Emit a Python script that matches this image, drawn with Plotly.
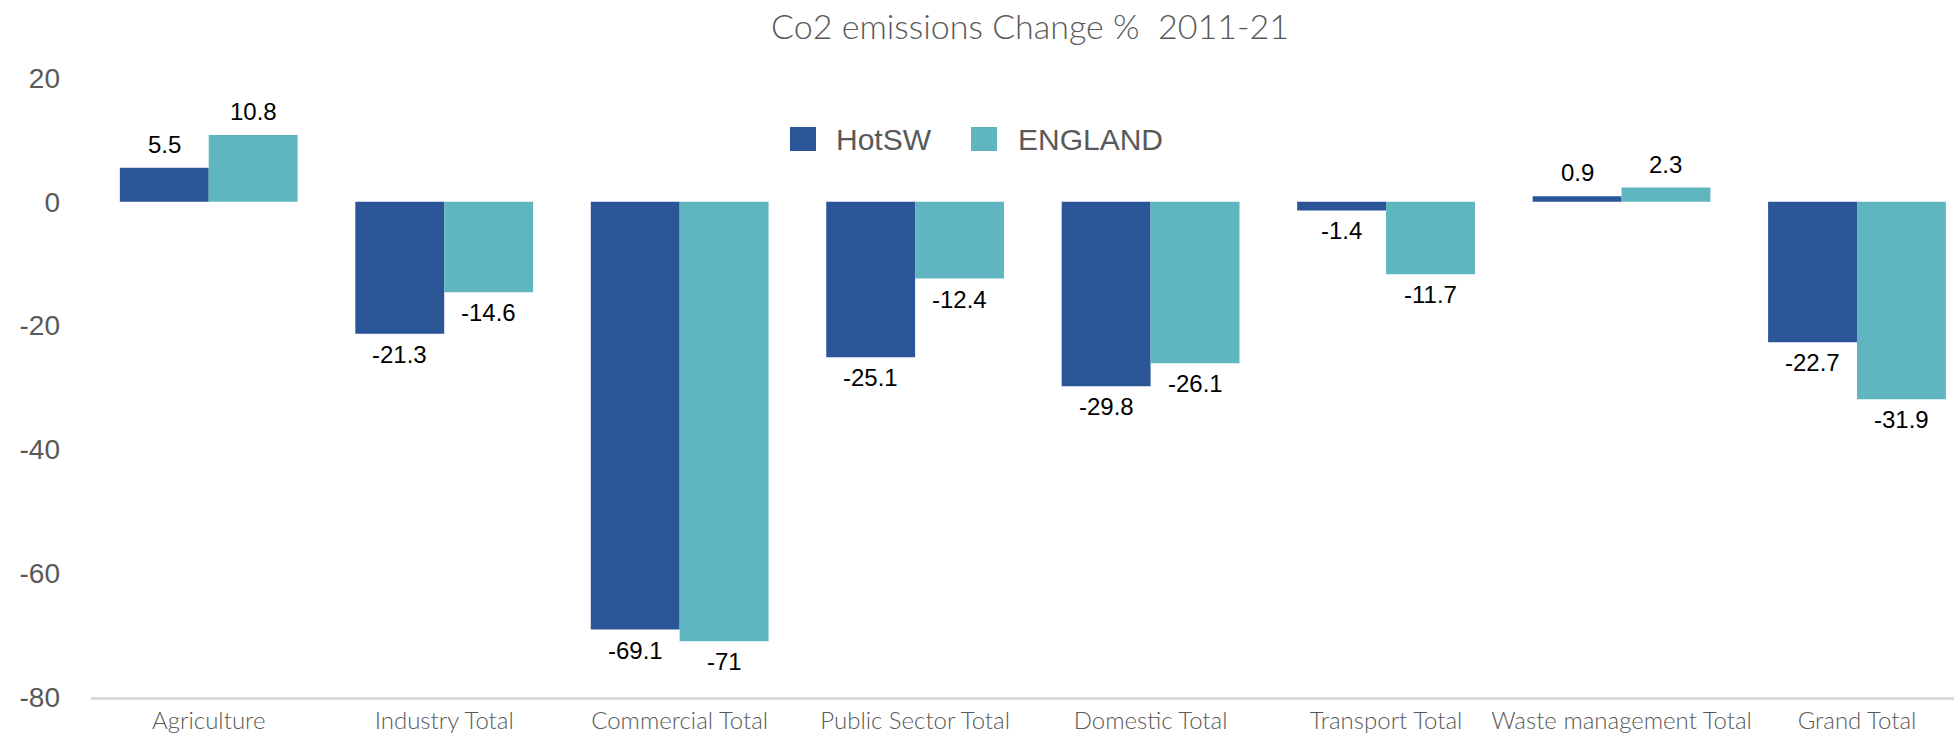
import plotly.graph_objects as go

# Sector categories and percentage change in CO2 emissions, 2011-21
categories = [
    "Agriculture", "Industry Total", "Commercial Total", "Public Sector Total",
    "Domestic Total", "Transport Total", "Waste management Total", "Grand Total",
]
hotsw = [5.5, -21.3, -69.1, -25.1, -29.8, -1.4, 0.9, -22.7]
england = [10.8, -14.6, -71, -12.4, -26.1, -11.7, 2.3, -31.9]
y_ticks = [-80, -60, -40, -20, 0, 20]
y_tick_text = ["-80", "-60", "-40", "-20", "0", "20"]

series_names = ["HotSW", "ENGLAND"]
series_colors = ["#2a5597", "#5fb6c1"]

W, H = 1954, 739
M_L, M_R, M_T, M_B = 91, 0, 78, 42
X_RANGE = [-0.5, 7.412]
BARGAP = 0.245

fig = go.Figure()
for name, vals, col in zip(series_names, [hotsw, england], series_colors):
    fig.add_trace(go.Bar(
        x=categories, y=vals, name=name,
        marker=dict(color=col, line=dict(width=0)),
        showlegend=False,
    ))

# Value labels just beyond the end of each bar
plot_w = W - M_L - M_R
px_per_cat = plot_w / (X_RANGE[1] - X_RANGE[0])
bar_px = px_per_cat * (1 - BARGAP) / 2
annotations = []
for i, vals in enumerate([hotsw, england]):
    offset = (i - 0.5) * bar_px
    for cat, v in zip(categories, vals):
        annotations.append(dict(
            x=cat, y=v, xref="x", yref="y", text=f"{v:g}",
            xshift=offset, yshift=8 if v >= 0 else -5,
            yanchor="bottom" if v >= 0 else "top", xanchor="center",
            showarrow=False,
            font=dict(family="Liberation Sans, Arial", size=24, color="#000000"),
        ))

# Legend drawn as coloured squares with labels, centred above the plot
legend_items = [
    dict(sq=(790, 816), tx=834),
    dict(sq=(971, 997), tx=1016),
]
shapes = []
plot_h = H - M_T - M_B
for item, name, col in zip(legend_items, series_names, series_colors):
    x0, x1 = item["sq"]
    shapes.append(dict(
        type="rect", xref="paper", yref="paper",
        x0=(x0 - M_L) / plot_w, x1=(x1 - M_L) / plot_w,
        y0=(H - M_B - 151) / plot_h, y1=(H - M_B - 127) / plot_h,
        fillcolor=col, line=dict(width=0),
    ))
    annotations.append(dict(
        text=name, xref="paper", yref="paper",
        x=(item["tx"] - M_L) / plot_w, y=(H - M_B - 139) / plot_h,
        xanchor="left", yanchor="middle", showarrow=False,
        font=dict(family="Liberation Sans, Arial", size=30, color="#595959"),
    ))

fig.update_layout(
    width=W, height=H,
    margin=dict(l=M_L, r=M_R, t=M_T, b=M_B, pad=0),
    paper_bgcolor="white", plot_bgcolor="white",
    barmode="group", bargap=BARGAP, bargroupgap=0,
    title=dict(
        text="Co2 emissions Change %\u00a0 2011-21",
        x=1030 / W, xref="container", xanchor="center",
        y=1 - 27 / H, yref="container", yanchor="middle",
        font=dict(family="Lato", weight=300, size=34, color="#595959"),
    ),
    xaxis=dict(
        range=X_RANGE,
        showline=True, linecolor="#d9d9d9", linewidth=3,
        showgrid=False, ticks="", zeroline=False,
        tickfont=dict(family="Lato", weight=300, size=24, color="#595959"),
    ),
    yaxis=dict(
        range=[-80, 20], tickvals=y_ticks, ticktext=y_tick_text,
        showline=False, showgrid=False, zeroline=False, ticks="",
        ticklabelstandoff=30,
        tickfont=dict(family="Liberation Sans, Arial", size=28, color="#595959"),
    ),
    shapes=shapes,
    annotations=annotations,
    showlegend=False,
)

fig.write_html("out.html")
